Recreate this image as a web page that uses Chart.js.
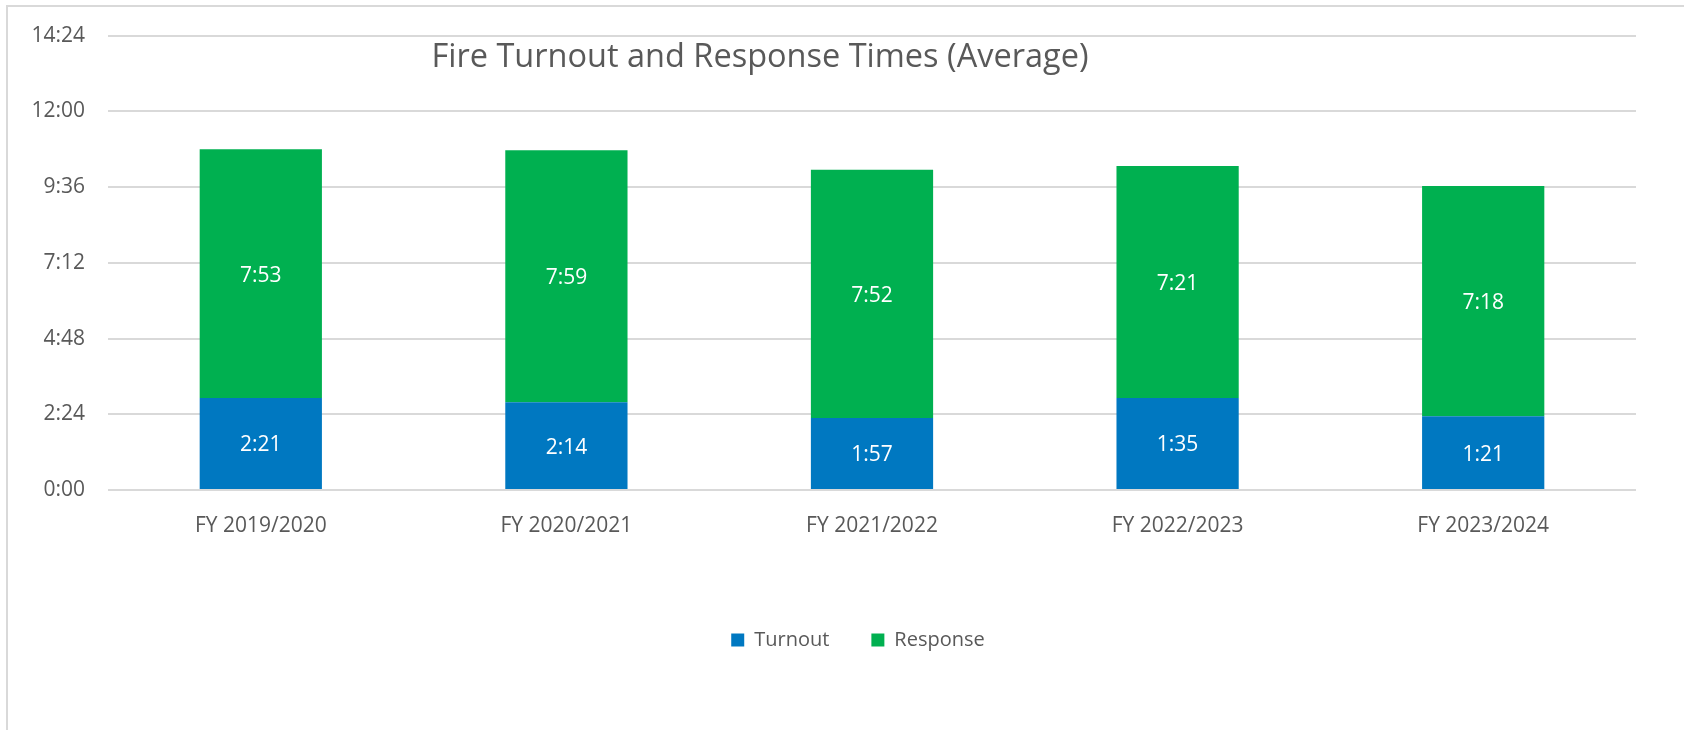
<!DOCTYPE html>
<html>
<head>
<meta charset="utf-8">
<script src="https://cdn.jsdelivr.net/npm/chart.js@4/dist/chart.umd.min.js"></script>
<style>
  html, body { margin: 0; padding: 0; background: #fff; }
  #frame { position: absolute; left: 6px; top: 5px; right: 0; bottom: 0; border-top: 2px solid #d9d9d9; border-left: 2px solid #d9d9d9; }
  #chart { position: absolute; left: 0; top: 0; }
</style>
</head>
<body>
<div id="frame"></div>
<canvas id="chart" width="1684" height="730"></canvas>
<script>
// values in seconds
const years = ["FY 2019/2020", "FY 2020/2021", "FY 2021/2022", "FY 2022/2023", "FY 2023/2024"];
const turnout = [175, 167, 137, 175, 140];
const response = [473, 479, 472, 441, 438];
// labels printed on the bars
const turnoutLabels = ["2:21", "2:14", "1:57", "1:35", "1:21"];
const responseLabels = ["7:53", "7:59", "7:52", "7:21", "7:18"];

const chartTitle = "Fire Turnout and Response Times (Average)";
const FONT = "'Open Sans', sans-serif";

function fmt(sec) {
  const m = Math.floor(sec / 60);
  const s = Math.round(sec % 60);
  return m + ":" + String(s).padStart(2, "0");
}

// data labels in the middle of each segment
const barLabels = {
  id: "barLabels",
  afterDatasetsDraw(chart) {
    const ctx = chart.ctx;
    const texts = [turnoutLabels, responseLabels];
    ctx.save();
    ctx.font = "21px " + FONT;
    ctx.fillStyle = "#ffffff";
    ctx.textAlign = "center";
    ctx.textBaseline = "middle";
    chart.data.datasets.forEach((ds, di) => {
      chart.getDatasetMeta(di).data.forEach((bar, i) => {
        const p = bar.getProps(["x", "y", "base"], true);
        ctx.fillText(texts[di][i], p.x, (p.y + p.base) / 2 + 2);
      });
    });
    ctx.restore();
  }
};

// title sits inside the plot area, left of centre
const innerTitle = {
  id: "innerTitle",
  afterDraw(chart) {
    const ctx = chart.ctx;
    ctx.save();
    ctx.font = "32.5px " + FONT;
    ctx.fillStyle = "#595959";
    ctx.textAlign = "center";
    ctx.textBaseline = "alphabetic";
    ctx.fillText(chartTitle, 760, 67);
    ctx.restore();
  }
};

// legend in the reference is a little right of the chart centre
const legendShift = {
  id: "legendShift",
  afterLayout(chart) {
    chart.legend.left += 40;
    chart.legend.right += 40;
  }
};

Chart.defaults.font.family = FONT;
Chart.defaults.color = "#595959";

new Chart(document.getElementById("chart"), {
  type: "bar",
  data: {
    labels: years,
    datasets: [
      { label: "Turnout", data: turnout, backgroundColor: "#0078C1" },
      { label: "Response", data: response, backgroundColor: "#00B050" }
    ]
  },
  options: {
    responsive: false,
    devicePixelRatio: 1,
    animation: false,
    categoryPercentage: 1,
    barPercentage: 0.4,
    layout: { padding: { left: 0, right: 48, top: 34, bottom: 70 } },
    scales: {
      x: {
        stacked: true,
        grid: { display: false },
        border: { display: false },
        ticks: { font: { size: 21 }, padding: 15, color: "#595959" },
        afterFit: s => { s.height = 98; }
      },
      y: {
        stacked: true,
        min: 0,
        max: 864,
        grid: { color: "#d9d9d9", lineWidth: 2, drawTicks: false },
        border: { display: false },
        ticks: { stepSize: 144, padding: 23, font: { size: 21 }, color: "#595959", callback: v => fmt(v) },
        afterFit: s => { s.width = 108; }
      }
    },
    plugins: {
      title: { display: false },
      tooltip: { enabled: false },
      legend: {
        position: "bottom",
        labels: { boxWidth: 13, boxHeight: 13, padding: 42, font: { size: 20 }, color: "#595959" }
      }
    }
  },
  plugins: [barLabels, innerTitle, legendShift]
});
</script>
</body>
</html>
